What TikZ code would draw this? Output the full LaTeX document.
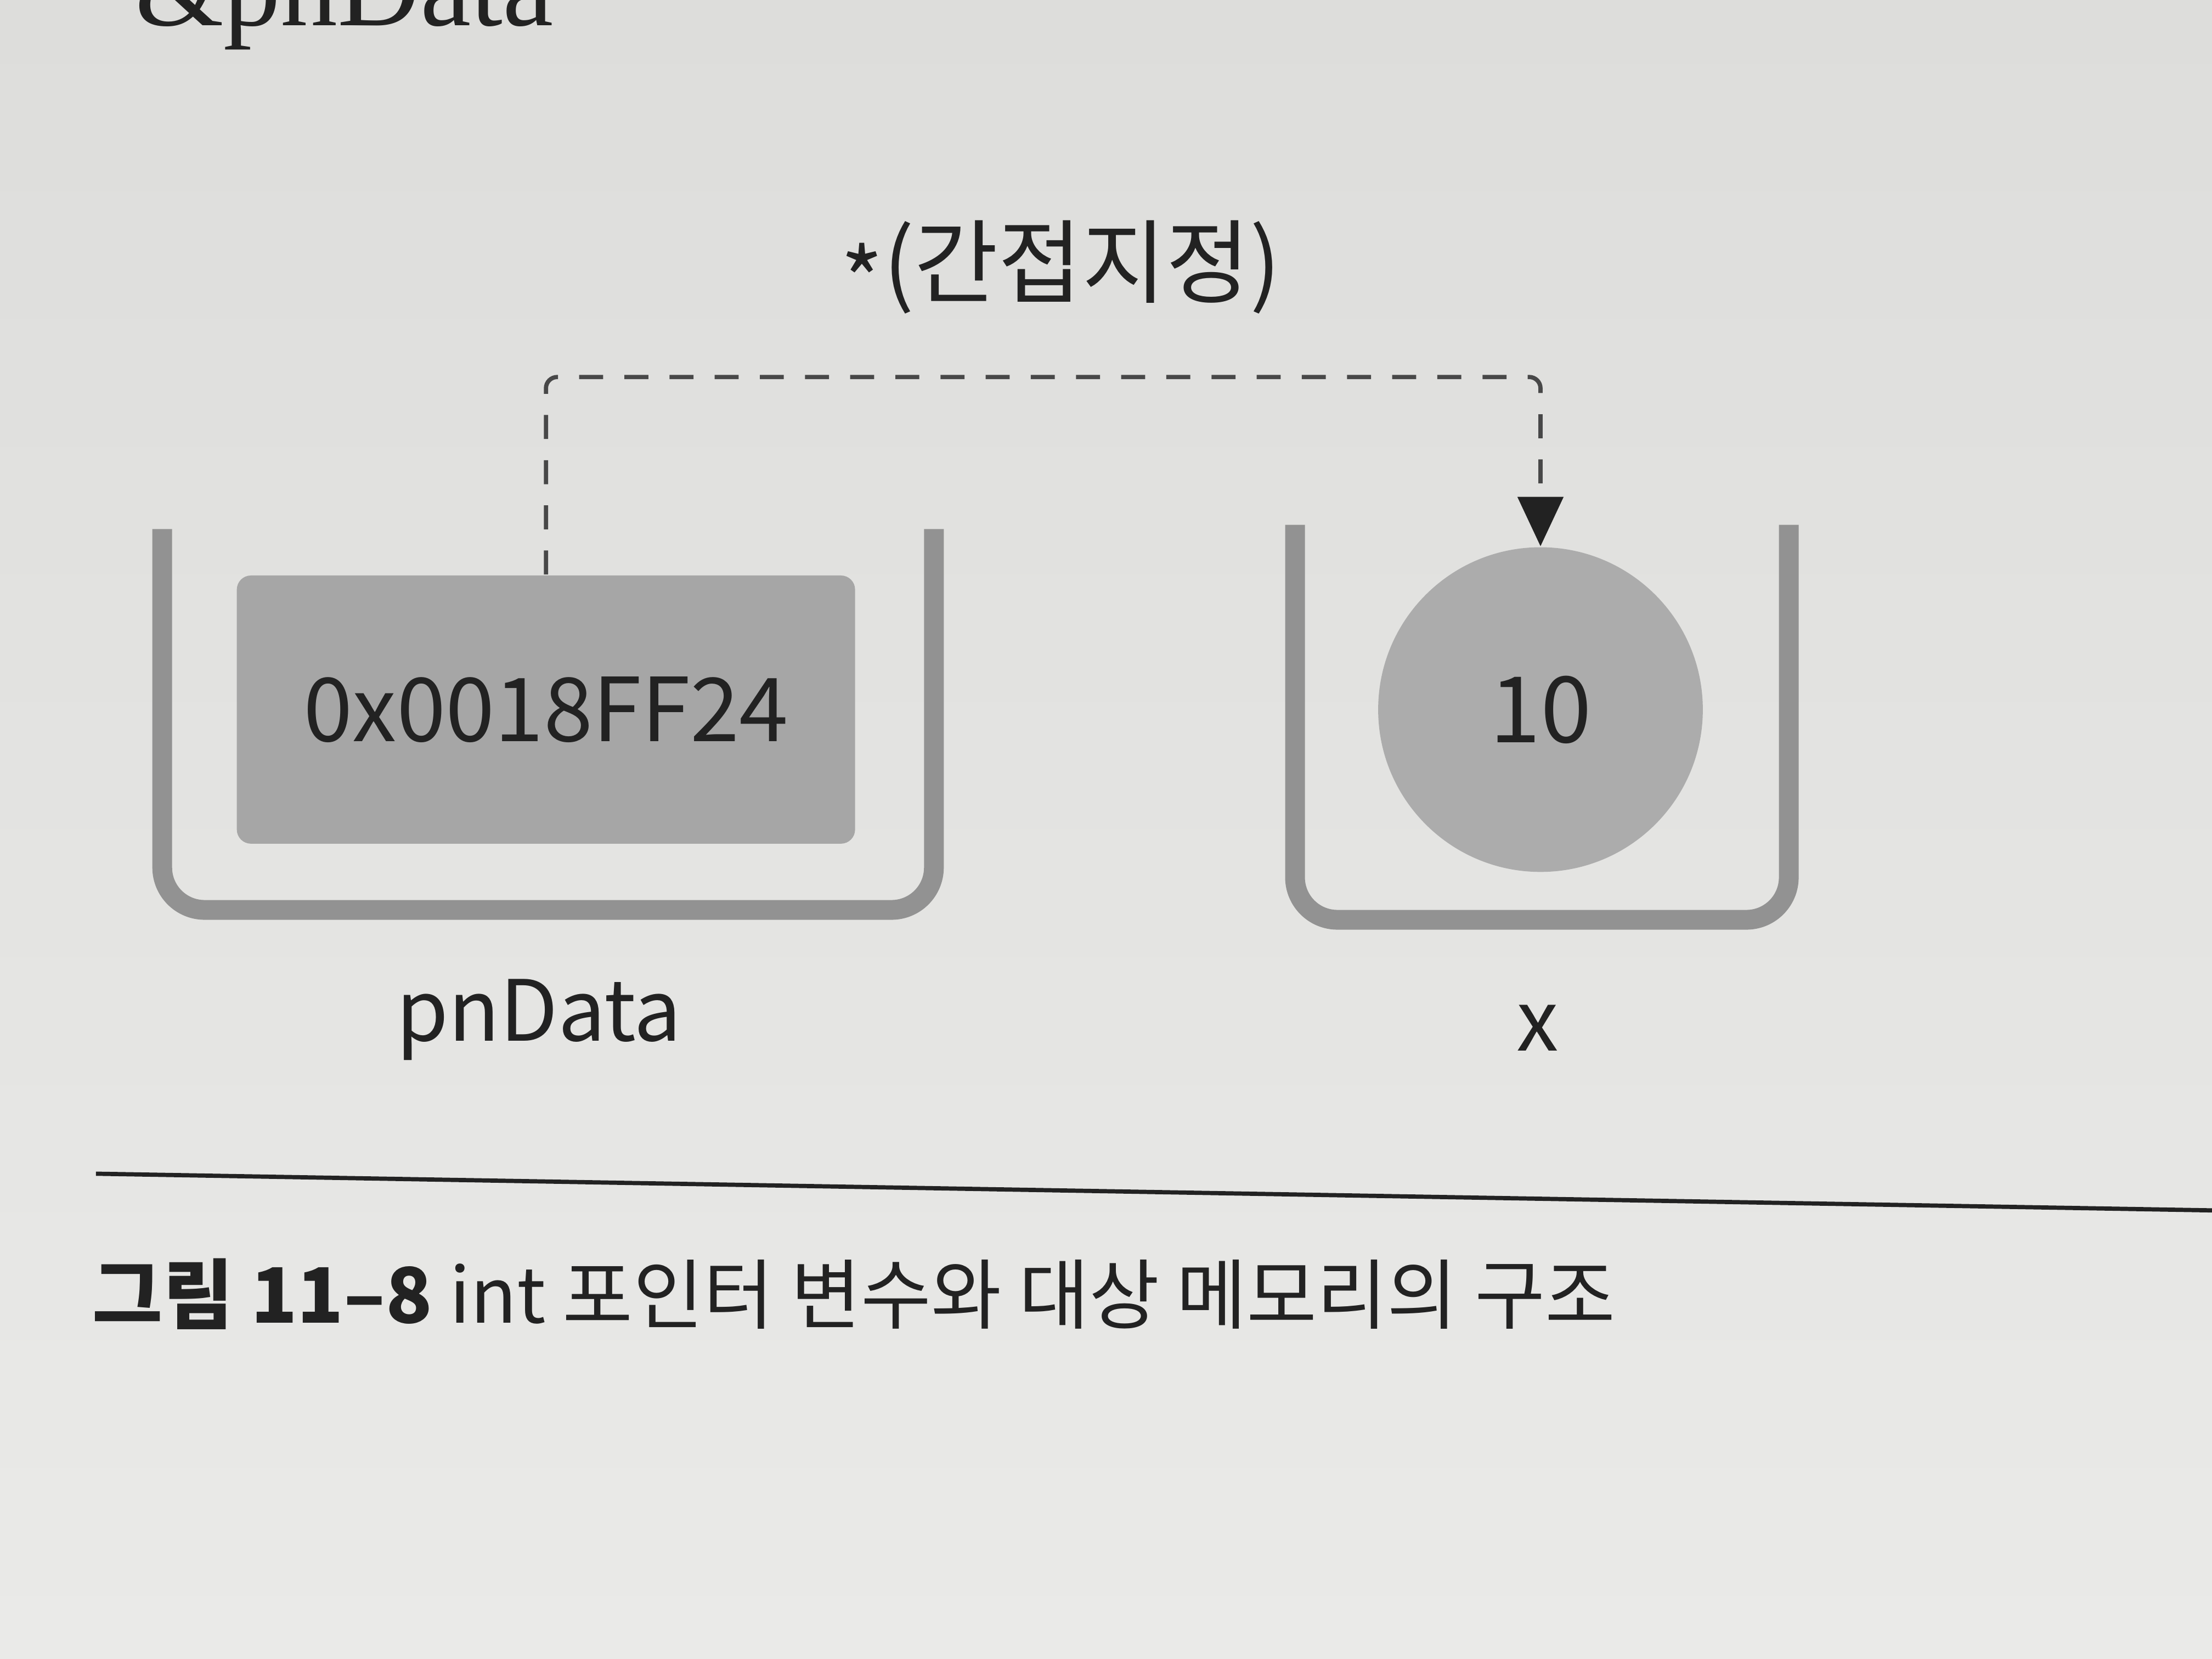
\documentclass[tikz,border=0pt]{standalone}
\usepackage{fontspec}
\setmainfont{Noto Sans CJK KR}
\newfontfamily\serifbody{Liberation Serif}
\usetikzlibrary{arrows.meta}
\definecolor{paperTop}{RGB}{221,221,219}
\definecolor{paperBottom}{RGB}{234,234,232}
\definecolor{cupgray}{RGB}{146,146,146}
\definecolor{boxgray}{RGB}{166,166,166}
\definecolor{circgray}{RGB}{172,172,172}
\definecolor{ink}{RGB}{34,34,34}
\definecolor{dashink}{RGB}{72,72,72}
\begin{document}
\begin{tikzpicture}[x=0.01cm,y=-0.01cm,
  cup/.style={draw=cupgray,line width=0.14cm,rounded corners=0.3cm},
  addrbox/.style={fill=boxgray,rounded corners=0.1cm,minimum width=4.38cm,minimum height=1.90cm,inner sep=0pt,text=ink,font=\fontsize{17.8}{20}\selectfont},
  valcircle/.style={circle,fill=circgray,minimum size=2.3cm,inner sep=0pt,text=ink,font=\fontsize{18.5}{20}\selectfont},
  lbl/.style={inner sep=0pt,text=ink,font=\fontsize{17}{19}\selectfont},
  conn/.style={draw=dashink,line width=0.03cm,dash pattern=on 0.17cm off 0.15cm,rounded corners=0.08cm,-{Triangle[length=0.35cm,width=0.32cm,fill=ink,color=ink]}},
  rule/.style={draw=ink,line width=0.03cm},
  caption/.style={inner sep=0pt,text=ink,font=\fontsize{15.4}{17}\selectfont}]
\useasboundingbox (0,0) rectangle (1568,1176);
\clip (0,0) rectangle (1568,1176);
\shade[top color=paperTop,bottom color=paperBottom] (0,0) rectangle (1568,1176);

% cut-off body text at the top edge (as in the reference)
\node[inner sep=0pt,anchor=base west,text=ink,font=\serifbody\fontsize{23}{25}\selectfont] (prev) at (95,18) {\&pnData};

% containers
\draw[cup] (115,375) -- (115,645) -- (662,645) -- (662,375);
\draw[cup] (918,372) -- (918,652) -- (1268,652) -- (1268,372);

% contents
\node[addrbox] (addr) at (387,503) {0x0018FF24};
\node[valcircle] (val) at (1092,503) {10};

% labels
\node[lbl,font=\fontsize{18.4}{20}\selectfont] (ind) at (752,190) {\raisebox{-0.22em}{*}(간접지정)};
\node[lbl,anchor=base] (pn) at (382,738) {pnData};
\node[lbl,anchor=base] (xl) at (1090,745) {x};

% indirection connector
\draw[conn] (addr.north) -- ++(0,-140) -| (val.north);

% rule and caption
\coordinate (ruleL) at (68,832);
\coordinate (ruleR) at (1568,858);
\draw[rule] (ruleL) -- (ruleR);
\node[caption,anchor=base west] (cap) at (65,938) {\textbf{그림 11–8} int 포인터 변수와 대상 메모리의 구조};
\end{tikzpicture}
\end{document}
